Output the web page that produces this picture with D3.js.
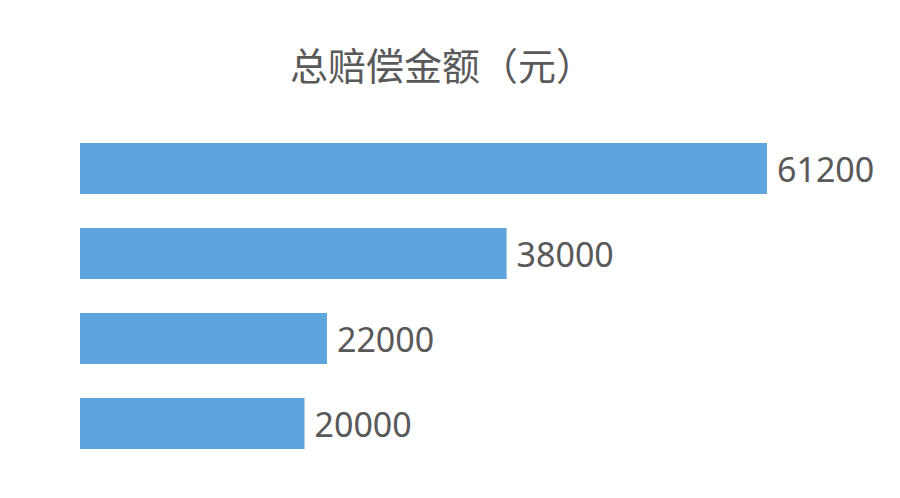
<!DOCTYPE html>
<html><head><meta charset="utf-8">
<script src="https://cdn.jsdelivr.net/npm/d3@7"></script>
<style>body{margin:0;background:#fff}</style>
</head><body>
<script>
const categories = ["a","b","c","d"];
const values = [61200,38000,22000,20000];
const title = "总赔偿金额（元）";

const svg = d3.select("body").append("svg").attr("width",900).attr("height",498);

const x = d3.scaleLinear().domain([0,61200]).range([80,767]);
const y = d3.scaleBand().domain(categories).range([126,466]).paddingInner(0.4).paddingOuter(0.2);

svg.append("text")
  .attr("x",442).attr("y",80)
  .attr("text-anchor","middle")
  .attr("font-family","Noto Sans CJK SC")
  .attr("font-size",38)
  .attr("fill","#595959")
  .text(title);

svg.selectAll("rect")
  .data(values)
  .join("rect")
  .attr("x",x(0))
  .attr("y",(d,i)=>y(categories[i]))
  .attr("width",d=>x(d)-x(0))
  .attr("height",y.bandwidth())
  .attr("fill","#5DA5DC");

svg.selectAll("text.lbl")
  .data(values)
  .join("text")
  .attr("class","lbl")
  .attr("x",d=>x(d)+10)
  .attr("y",(d,i)=>y(categories[i])+y.bandwidth()/2)
  .attr("dominant-baseline","central")
  .attr("font-family","Noto Sans, sans-serif")
  .attr("font-size",34)
  .attr("fill","#595959")
  .text(d=>d);
</script>
</body></html>
